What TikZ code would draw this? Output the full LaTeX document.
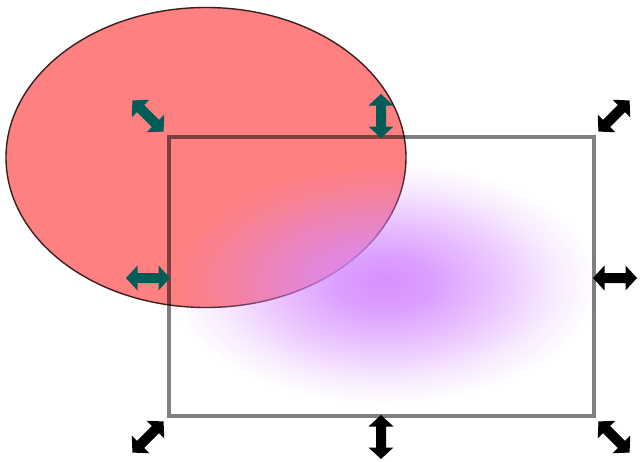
\documentclass[tikz,border=0pt]{standalone}
\usetikzlibrary{fadings}
\definecolor{salmonfill}{RGB}{255,128,128}
\definecolor{ellline}{RGB}{60,30,30}
\definecolor{handleteal}{RGB}{0,92,86}
\definecolor{purpglow}{RGB}{214,138,255}
\pgfdeclareradialshading{purpfadeshade}{\pgfpointorigin}{color(0bp)=(white); color(6bp)=(white!85!black); color(14bp)=(white!48!black); color(20bp)=(white!18!black); color(25bp)=(black); color(50bp)=(black)}
\pgfdeclarefading{purpfade}{\pgfuseshading{purpfadeshade}}
\tikzset{
  pics/handle/.style={code={
    \fill[#1] (-22,0) -- (-10.5,12.5) -- (-10.5,5) -- (10.5,5) -- (10.5,12.5) -- (22,0)
      -- (10.5,-12.5) -- (10.5,-5) -- (-10.5,-5) -- (-10.5,-12.5) -- cycle;}},
  selrect/.style={draw=black, draw opacity=0.5, line width=3.2pt},
  ellshape/.style={fill=salmonfill, draw=ellline, line width=1.4pt}
}
\begin{document}
\begin{tikzpicture}[x=1pt,y=-1pt]
\useasboundingbox (0,0) rectangle (640,461);
\fill[white] (0,0) rectangle (640,461);
% red ellipse
\path[ellshape] (206,157.5) ellipse [x radius=200pt, y radius=150pt];
% purple glow
\fill[purpglow, fill opacity=0.95, path fading=purpfade] (172,163) rectangle (596,403);
% selection rectangle
\draw[selrect] (169,137) rectangle (594,416);
% handles
\pic[rotate=-45] at (148,116) {handle=handleteal};
\pic[rotate=90] at (381,116) {handle=handleteal};
\pic at (148,278) {handle=handleteal};
\pic[rotate=45] at (614,116) {handle=black};
\pic at (615,278) {handle=black};
\pic[rotate=45] at (148,437) {handle=black};
\pic[rotate=90] at (381,437) {handle=black};
\pic[rotate=-45] at (614,437) {handle=black};
\end{tikzpicture}
\end{document}
